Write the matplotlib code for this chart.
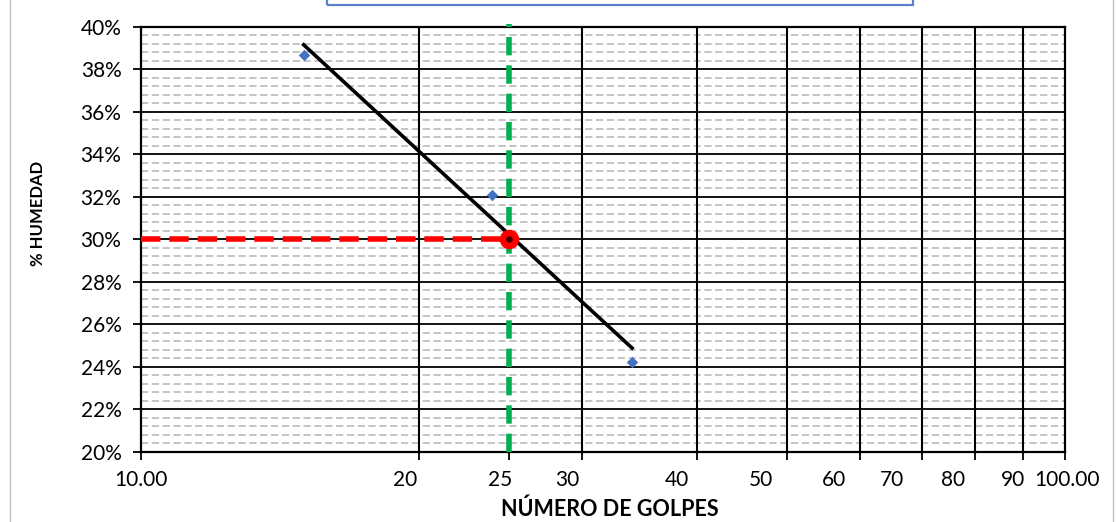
import matplotlib
matplotlib.use("Agg")
import matplotlib.pyplot as plt
import matplotlib.transforms as mtransforms
from matplotlib.lines import Line2D
from matplotlib.patches import Rectangle
import numpy as np

# Ensayo de límite líquido (Casagrande)
golpes = [15, 24, 34]
humedad = [38.68, 32.10, 24.24]

golpes_ll = 25
humedad_ll = 30.0

x_ticks = [10, 20, 25, 30, 40, 50, 60, 70, 80, 90, 100]
x_ticklabels = ['10.00', '20', '25', '30', '40', '50', '60', '70', '80', '90', '100.00']
x_grid = [20, 30, 40, 50, 60, 70, 80, 90]
y_ticks = np.arange(20, 41, 2)

plt.rcParams['font.family'] = ['Lato', 'DejaVu Sans']

fig = plt.figure(figsize=(11.16, 5.22), dpi=100)
ax = fig.add_axes([0.1263, 0.1341, 0.8280, 0.8142])

ax.set_xscale('log')
ax.set_xlim(10, 100)
ax.set_ylim(20, 40)

# minor dashed gridlines every 0.4 %
for v in np.arange(20, 40.01, 0.4):
    if abs(v - round(v / 2) * 2) > 1e-6:
        ax.axhline(v, color='#BFBFBF', lw=1.3, ls=(0, (4, 2)), zorder=1)
for v in y_ticks[1:-1]:
    ax.axhline(v, color='black', lw=1.3, zorder=2)
for v in x_grid:
    ax.axvline(v, color='black', lw=1.5, zorder=2)

# trend line (log fit)
b, a = np.polyfit(np.log(golpes), humedad, 1)
xt = np.array([min(golpes), max(golpes)])
ax.plot(xt, a + b * np.log(xt), color='black', lw=2.6, zorder=4)

# data points
ax.scatter(golpes, humedad, marker='D', s=34, color='#4472C4', zorder=5, linewidths=0)

# reference lines at 25 golpes
ax.plot([10, golpes_ll], [humedad_ll, humedad_ll], color='#FF0000', lw=4,
        ls=(0, (3.5, 1.6)), zorder=5)
ax.plot([golpes_ll, golpes_ll], [20, 40.15], color='#00B050', lw=4,
        ls=(0, (3.3, 1.8)), zorder=5, clip_on=False)
ax.scatter([golpes_ll], [humedad_ll], s=170, color='#FF0000', zorder=6)
ax.scatter([golpes_ll], [humedad_ll], s=14, color='#400000', zorder=7)

for s in ax.spines.values():
    s.set_linewidth(1.6)
    s.set_color('black')

ax.set_yticks(y_ticks)
ax.set_yticklabels([f'{v}%' for v in y_ticks])
ax.yaxis.set_minor_locator(matplotlib.ticker.NullLocator())
ax.xaxis.set_minor_locator(matplotlib.ticker.NullLocator())
ax.set_xticks(x_ticks)
ax.set_xticklabels(x_ticklabels)
ax.tick_params(axis='y', length=6, width=1.3, pad=8, labelsize=15)
ax.tick_params(axis='x', length=6, width=1.3, pad=7, labelsize=15)

# tick labels sit slightly left of their gridlines, like the original
label_shift = [0, -14, -9, -15, -20, -26, -26, -30, -22, -10, 2]
for lbl, dx in zip(ax.get_xticklabels(), label_shift):
    lbl.set_transform(lbl.get_transform() +
                      mtransforms.ScaledTranslation(dx / 100, 0, fig.dpi_scale_trans))

fig.text(0.5466, 0.025, 'NÚMERO DE GOLPES', ha='center', va='center',
         fontsize=15.5, fontweight='bold')
fig.text(0.034, 0.592, '% HUMEDAD', ha='center', va='center', rotation=90,
         fontsize=12, fontweight='bold')

# clipped title box and chart border
fig.patches.append(Rectangle((327 / 1116, 1 - 5 / 522), (913 - 327) / 1116, 0.05,
                             transform=fig.transFigure, fill=False,
                             edgecolor='#5B7FC8', lw=1.6))
fig.lines.append(Line2D([10 / 1116, 10 / 1116], [0, 1], transform=fig.transFigure,
                        color='#C0C0C0', lw=1))
fig.lines.append(Line2D([1113 / 1116, 1113 / 1116], [0, 1], transform=fig.transFigure,
                        color='#C0C0C0', lw=1))

fig.savefig('out.png', dpi=100, facecolor='white')
